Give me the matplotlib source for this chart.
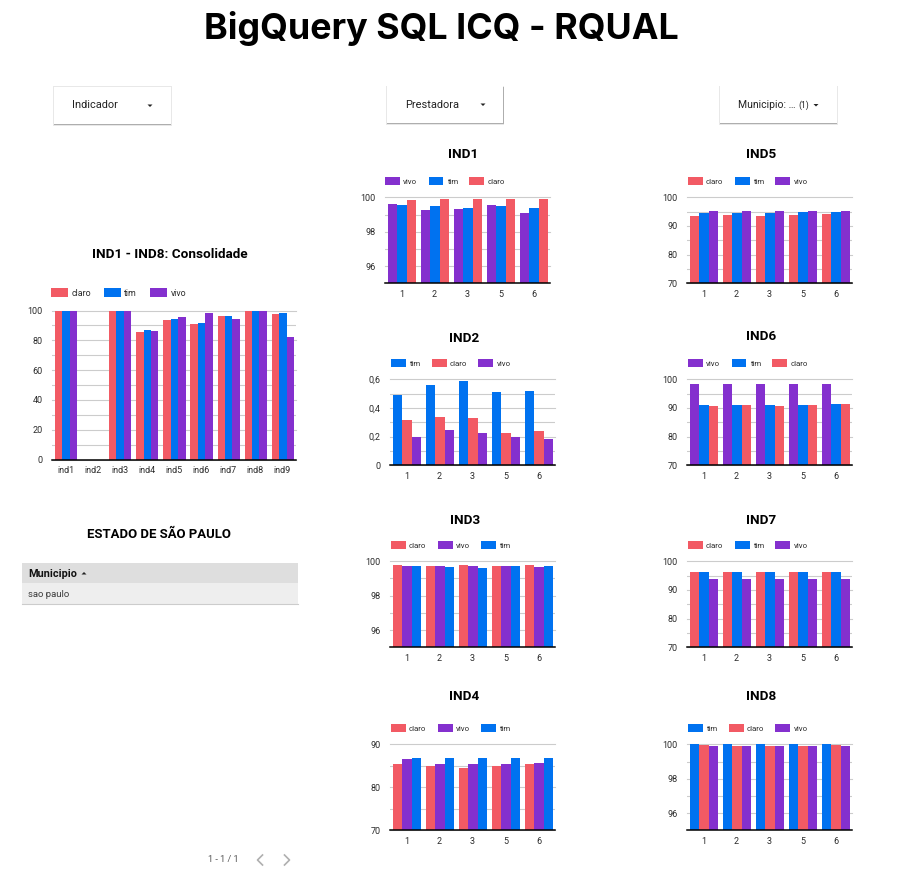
"""BigQuery SQL ICQ - RQUAL dashboard page, redrawn in matplotlib."""

import matplotlib

matplotlib.use("Agg")
import matplotlib.pyplot as plt
import numpy as np
from matplotlib.patches import Polygon, Rectangle

plt.rcParams["font.family"] = ["Roboto", "DejaVu Sans"]

W, H = 898, 891
CLARO, TIM, VIVO = "#f25a64", "#0072f0", "#8430ce"
COLORS = {"claro": CLARO, "tim": TIM, "vivo": VIVO}
GRID, LABEL = "#cccccc", "#2b2b2b"

PERIODS = ["1", "2", "3", "5", "6"]
INDICATORS = ["ind1", "ind2", "ind3", "ind4", "ind5", "ind6", "ind7", "ind8", "ind9"]

ALL_CLARO = [100, 0, 100, 85.5, 93.5, 90.8, 96.2, 100, 97.5]
ALL_TIM = [99.6, 0, 99.6, 86.9, 94.2, 91.5, 96.2, 100, 98.2]
ALL_VIVO = [99.6, 0, 99.6, 86.1, 95.5, 98.2, 94.2, 100, 82.1]

IND1_VIVO = [99.61, 99.26, 99.32, 99.55, 99.09]
IND1_TIM = [99.55, 99.5, 99.38, 99.5, 99.38]
IND1_CLARO = [99.85, 99.9, 99.9, 99.9, 99.9]

IND2_TIM = [0.49, 0.56, 0.588, 0.51, 0.519]
IND2_CLARO = [0.316, 0.337, 0.33, 0.226, 0.24]
IND2_VIVO = [0.198, 0.247, 0.226, 0.198, 0.184]

IND3_CLARO = [99.79, 99.73, 99.79, 99.73, 99.79]
IND3_VIVO = [99.73, 99.73, 99.73, 99.73, 99.67]
IND3_TIM = [99.73, 99.67, 99.61, 99.73, 99.73]

IND4_CLARO = [85.4, 85.0, 84.5, 85.0, 85.4]
IND4_VIVO = [86.6, 85.4, 85.4, 85.4, 85.7]
IND4_TIM = [86.8, 86.8, 86.8, 86.8, 86.8]

IND5_CLARO = [93.5, 93.8, 93.5, 93.8, 94.2]
IND5_TIM = [94.5, 94.5, 94.5, 94.9, 94.9]
IND5_VIVO = [95.2, 95.2, 95.2, 95.2, 95.2]

IND6_VIVO = [98.4, 98.4, 98.4, 98.4, 98.4]
IND6_TIM = [91.05, 91.05, 91.05, 91.05, 91.4]
IND6_CLARO = [90.7, 91.05, 90.7, 91.05, 91.4]

IND7_CLARO = [96.3, 96.3, 96.3, 96.3, 96.3]
IND7_TIM = [96.3, 96.3, 96.3, 96.3, 96.3]
IND7_VIVO = [93.8, 93.8, 93.8, 93.8, 93.8]

IND8_TIM = [100, 100, 100, 100, 100]
IND8_CLARO = [99.97, 99.9, 99.9, 99.9, 99.97]
IND8_VIVO = [99.9, 99.9, 99.9, 99.9, 99.9]

fig = plt.figure(figsize=(W / 100, H / 100), dpi=100, facecolor="white")

# full-page layer in pixel coordinates for the dashboard furniture
page = fig.add_axes([0, 0, 1, 1], zorder=0)
page.set_xlim(0, W)
page.set_ylim(H, 0)
page.axis("off")


def bar_chart(title, title_xy, box, series, cats, ylim, major, minor, legend_x, legend_y,
              labels=None, fs=5.65, title_fs=9.7):
    """box is (left, right, top, bottom) in page pixels."""
    left, right, top, bottom = box
    ax = fig.add_axes([left / W, 1 - bottom / H, (right - left) / W, (bottom - top) / H],
                      zorder=2, facecolor="none")
    x = np.arange(len(cats))
    bw = 0.82 / len(series)
    for i, (name, vals) in enumerate(series):
        ax.bar(x + 0.015 + (i - 1) * bw, vals, width=bw, color=COLORS[name], label=name, zorder=3)
    ax.set_xlim(-0.5, len(cats) - 0.5)
    ax.set_ylim(*ylim)
    ax.set_xticks(x, cats)
    ax.set_yticks(major, labels if labels else [str(v) for v in major])
    ax.set_yticks(minor, minor=True)
    ax.grid(axis="y", which="both", color=GRID, lw=0.8, zorder=1)
    for line in ax.get_ygridlines() + ax.yaxis.get_minorticklines():
        line.set_clip_on(False)
    ax.tick_params(axis="both", which="both", length=0, labelcolor=LABEL, labelsize=6.5)
    ax.tick_params(axis="x", pad=5)
    ax.tick_params(axis="y", pad=6.8)
    for side in ("top", "left", "right"):
        ax.spines[side].set_visible(False)
    ax.spines["bottom"].set_linewidth(1.1)
    ax.spines["bottom"].set_color("black")
    ax.spines["bottom"].set_zorder(5)
    ax.legend(loc="center left", bbox_to_anchor=(legend_x, legend_y), bbox_transform=page.transData,
              ncol=len(series), frameon=False, fontsize=fs, labelcolor=LABEL, borderaxespad=0,
              borderpad=0, handlelength=1.9, handleheight=1.05, handletextpad=0.4, columnspacing=1.45)
    page.text(title_xy[0], title_xy[1], title, ha="center", va="center", fontsize=title_fs,
              fontweight="bold", color="black")
    return ax


def dropdown(left, right, top, bottom, text, text_y, arrow_x, fs=7.9):
    page.add_patch(Rectangle((left - 0.8, top - 0.3), right - left + 1.8, bottom - top + 2,
                             fc="#e8e8e8", ec="none"))
    page.add_patch(Rectangle((left + 0.3, top + 1), right - left + 0.3, bottom - top + 0.3,
                             fc="#aeaeae", ec="none"))
    page.add_patch(Rectangle((left, top), right - left, bottom - top, fc="white", ec="none"))
    page.text(left + 18.5, text_y, text, ha="left", va="center", fontsize=fs, color="#222222")
    caret(arrow_x, text_y)


def caret(x, y, up=False):
    d = -1.5 if up else 1.5
    page.add_patch(Polygon([(x - 2.5, y - d / 1.5), (x + 2.5, y - d / 1.5), (x, y + d)],
                           fc="#222222", ec="none"))


page.text(441, 28, "BigQuery SQL ICQ - RQUAL", ha="center", va="center", fontsize=25.8,
          fontweight="bold", family=["Inter", "DejaVu Sans"], color="black")

dropdown(53.5, 170.5, 86.5, 124, "Indicador", 105.5, 150)
dropdown(387, 503, 86, 123, "Prestadora", 104.5, 483)
dropdown(719.5, 836.5, 86, 123, "Municipio: …", 105, 816, fs=7.5)
page.text(798, 105, "(1)", ha="left", va="center", fontsize=6.2, color="#222222")

bar_chart("IND1 - IND8: Consolidade", (170, 255), (52, 296, 310.5, 459.5),
          [("claro", ALL_CLARO), ("tim", ALL_TIM), ("vivo", ALL_VIVO)], INDICATORS,
          (0, 100), [0, 20, 40, 60, 80, 100], [10, 30, 50, 70, 90], 51, 293, fs=6.4)

bar_chart("IND1", (463, 155), (385, 550, 197.3, 283.3),
          [("vivo", IND1_VIVO), ("tim", IND1_TIM), ("claro", IND1_CLARO)], PERIODS,
          (95, 100), [96, 98, 100], [97, 99], 385, 181)
bar_chart("IND2", (464, 338), (390, 555, 379.3, 465.3),
          [("tim", IND2_TIM), ("claro", IND2_CLARO), ("vivo", IND2_VIVO)], PERIODS,
          (0, 0.6), [0, 0.2, 0.4, 0.6], [0.1, 0.3, 0.5], 391, 363,
          labels=["0", "0,2", "0,4", "0,6"])
bar_chart("IND3", (465, 520), (390, 555, 561.3, 647.3),
          [("claro", IND3_CLARO), ("vivo", IND3_VIVO), ("tim", IND3_TIM)], PERIODS,
          (95, 100), [96, 98, 100], [97, 99], 391, 545)
bar_chart("IND4", (464, 696), (390, 555, 744.3, 830.3),
          [("claro", IND4_CLARO), ("vivo", IND4_VIVO), ("tim", IND4_TIM)], PERIODS,
          (70, 90), [70, 80, 90], [75, 85], 391, 728)
bar_chart("IND5", (761, 155), (687, 852, 197.3, 283.3),
          [("claro", IND5_CLARO), ("tim", IND5_TIM), ("vivo", IND5_VIVO)], PERIODS,
          (70, 100), [70, 80, 90, 100], [75, 85, 95], 688, 181)
bar_chart("IND6", (761, 336), (687, 852, 379.3, 465.3),
          [("vivo", IND6_VIVO), ("tim", IND6_TIM), ("claro", IND6_CLARO)], PERIODS,
          (70, 100), [70, 80, 90, 100], [75, 85, 95], 688, 363)
bar_chart("IND7", (761, 521), (687, 852, 561.3, 647.3),
          [("claro", IND7_CLARO), ("tim", IND7_TIM), ("vivo", IND7_VIVO)], PERIODS,
          (70, 100), [70, 80, 90, 100], [75, 85, 95], 688, 545)
bar_chart("IND8", (761, 696), (687, 852, 744.3, 830.3),
          [("tim", IND8_TIM), ("claro", IND8_CLARO), ("vivo", IND8_VIVO)], PERIODS,
          (95, 100), [96, 98, 100], [97, 99], 688, 728)

# table
page.text(158.5, 534, "ESTADO DE SÃO PAULO", ha="center", va="center", fontsize=9.45,
          fontweight="bold", color="black")
page.add_patch(Rectangle((22, 563), 276, 20, fc="#dedede", ec="none"))
page.add_patch(Rectangle((22, 583), 276, 21, fc="#eeeeee", ec="none"))
page.plot([22, 298], [604, 604], color="#cccccc", lw=0.8)
page.text(28.5, 574, "Municipio", ha="left", va="center", fontsize=7.8, fontweight="bold", color="#111111")
caret(84, 573.5, up=True)
page.text(28.5, 594.5, "sao paulo", ha="left", va="center", fontsize=6.8, color="#3c3c3c")

# pagination
page.text(223.5, 859, "1 - 1 / 1", ha="center", va="center", fontsize=6.6, color="#555555")
page.plot([262.5, 257.5, 262.5], [855, 860, 865], color="#b0b0b0", lw=1.2)
page.plot([284.5, 289.5, 284.5], [855, 860, 865], color="#b0b0b0", lw=1.2)

fig.savefig("out.png", dpi=100, facecolor="white")
